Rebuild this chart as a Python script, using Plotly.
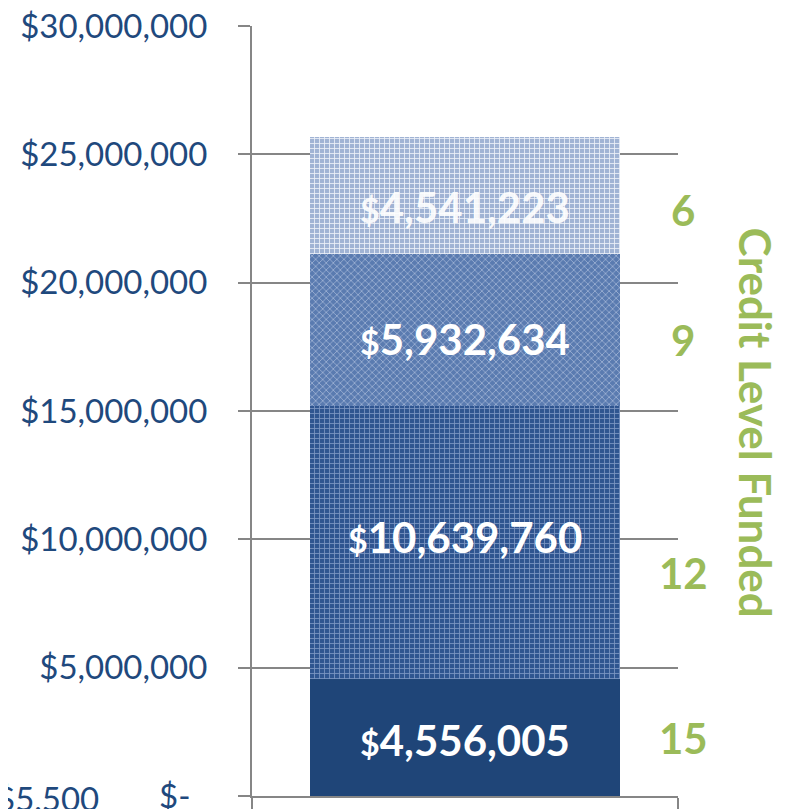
import plotly.graph_objects as go

# ---- data ----
segment_values = [4556005, 10639760, 5932634, 4541223]   # bottom -> top
credit_levels = ["15", "12", "9", "6"]
seg_colors_bg = ["#1F4578", "#2F5590", "#5A7BB0", "#A0B3D4"]
seg_colors_fg = ["#1F4578", "#7D97C3", "#9DB1D4", "#EEF2F9"]
seg_shapes = ["", "+", "x", "+"]
y_tick_vals = [0, 5000000, 10000000, 15000000, 20000000, 25000000, 30000000]
y_tick_text = ["$-\u00a0\u00a0", "$5,000,000", "$10,000,000", "$15,000,000",
               "$20,000,000", "$25,000,000", "$30,000,000"]
axis_title = "Credit Level Funded"
stray_label = "$5,500"

NAVY = "#1F497D"
GREEN = "#9BBB59"
GRID = "#868686"
FONT = "Lato"

fig = go.Figure()

level_shift = [0, -30, -10, -15]
value_shift = [-2, 6, -9, -12]
value_opacity = [1.0, 1.0, 1.0, 0.9]
cum = 0
for i, v in enumerate(segment_values):
    fig.add_trace(go.Bar(
        x=[0], y=[v], width=0.73,
        marker=dict(
            color=seg_colors_bg[i],
            line=dict(width=0),
            pattern=dict(shape=seg_shapes[i], fgcolor=seg_colors_fg[i],
                         bgcolor=seg_colors_bg[i], size=5, solidity=0.3,
                         fillmode="replace") if seg_shapes[i] else None,
        ),
        hoverinfo="skip", showlegend=False,
    ))
    mid = cum + v / 2
    fig.add_annotation(
        x=0, xref="x", y=mid, yref="y", yshift=value_shift[i],
        text='<span style="font-size:34px">$</span>' + f"{v:,}",
        showarrow=False, opacity=value_opacity[i],
        font=dict(family=FONT, size=42, color="white", weight="bold"),
        xanchor="center", yanchor="middle",
    )
    fig.add_annotation(
        x=1.012, xref="paper", y=mid, yref="y", yshift=level_shift[i],
        text=credit_levels[i], showarrow=False,
        font=dict(family=FONT, size=42, color=GREEN, weight="bold"),
        xanchor="center", yanchor="middle",
    )
    cum += v

fig.add_annotation(
    x=1.183, xref="paper", y=0.485, yref="paper",
    text=axis_title, textangle=90, showarrow=False,
    font=dict(family=FONT, size=44, color=GREEN, weight="bold"),
    xanchor="center", yanchor="middle",
)
fig.add_annotation(
    x=-0.481, xref="paper", y=-0.002, yref="paper",
    text=stray_label, showarrow=False,
    font=dict(family=FONT, size=33, color=NAVY),
    xanchor="center", yanchor="middle",
)

fig.update_layout(
    barmode="stack",
    width=778, height=801,
    margin=dict(l=244, r=108, t=18, b=13, autoexpand=False),
    paper_bgcolor="white", plot_bgcolor="white",
    font=dict(family=FONT, color=NAVY),
    xaxis=dict(
        range=[-0.5, 0.5], tickvals=[-0.5, 0.5], showticklabels=False,
        ticks="outside", ticklen=14, tickwidth=2, tickcolor=GRID,
        showline=True, linecolor=GRID, linewidth=2, showgrid=False,
        zeroline=False, fixedrange=True,
    ),
    yaxis=dict(
        range=[0, 30000000], tickvals=y_tick_vals, ticktext=y_tick_text,
        ticks="outside", ticklen=12, tickwidth=2, tickcolor=GRID,
        showline=True, linecolor=GRID, linewidth=2,
        showgrid=True, gridcolor=GRID, gridwidth=2, zeroline=False,
        tickfont=dict(family=FONT, size=33, color=NAVY),
        ticklabelstandoff=24, ticklabeloverflow="allow",
    ),
)

fig.write_html("out.html")
